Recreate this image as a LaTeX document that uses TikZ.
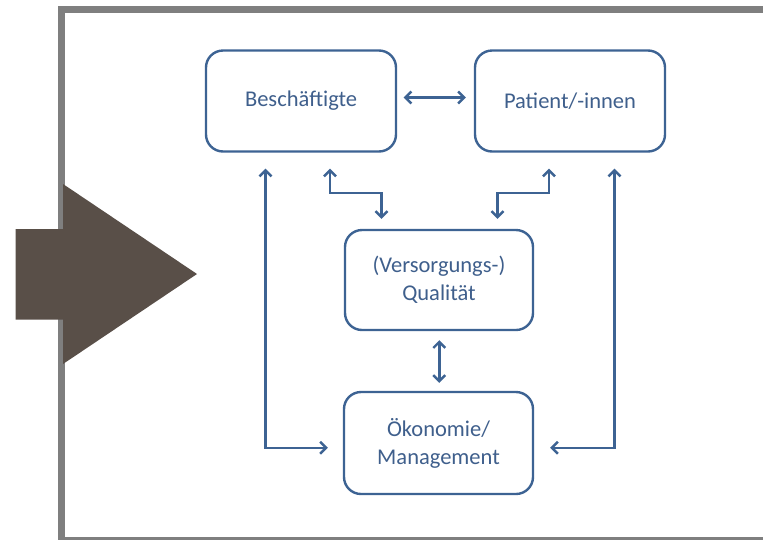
\documentclass[tikz,border=0pt]{standalone}
\usepackage{fontspec}
\setmainfont{Carlito}
\usetikzlibrary{arrows.meta,calc}
\definecolor{frameg}{HTML}{7F7F7F}
\definecolor{arrowbrown}{HTML}{594F48}
\definecolor{boxblue}{HTML}{3D6393}
\definecolor{txtblue}{HTML}{3F5F8C}
\begin{document}
\begin{tikzpicture}[x=1pt,y=-1pt,
  box/.style={draw=boxblue,line width=2.4pt,rounded corners=17pt,fill=white,
    text=txtblue,font=\fontsize{22.5}{28}\selectfont,align=center,inner sep=0pt},
  tip/.style={},
  conn/.style={draw=boxblue,line width=2.4pt,
    {Straight Barb[length=6pt,width=12pt,line width=2.4pt]}-{Straight Barb[length=6pt,width=12pt,line width=2.4pt]}},
  conn1/.style={draw=boxblue,line width=2.4pt,
    -{Straight Barb[length=6pt,width=12pt,line width=2.4pt]}}]
\useasboundingbox (0,0) rectangle (763,539);
\begin{scope}
\clip (0,0) rectangle (763,539);
\draw[frameg,line width=7pt] (61.5,9) rectangle (820,540);
\end{scope}
% big arrow
\fill[arrowbrown] (15.5,229) -- (63,229) -- (63,184) -- (197,274) -- (63,364) -- (63,319.5) -- (15.5,319.5) -- cycle;
% boxes
\node[box,minimum width=190pt,minimum height=101pt] (b) at (301,101) {Beschäftigte};
\node[box,minimum width=190pt,minimum height=101pt] (p) at (570,101) {Patient/-innen};
\node[box,minimum width=188pt,minimum height=100pt] (q) at (439,280) {(Versorgungs-)\\Qualität};
\node[box,minimum width=189pt,minimum height=102pt] (o) at (438.5,443) {Ökonomie/\\Management};
% connectors
\draw[conn] ($(b.east)+(6.5,-3.5)$) -- ($(p.west)+(-8,-3.5)$);
\draw[conn] ($(q.south)+(0.3,9)$) -- ($(o.north)+(0.8,-8)$);
\coordinate (l1) at ($(b.south)+(-35.5,16)$);
\coordinate (r1) at ($(p.south)+(44.5,16)$);
\coordinate (l0) at ($(o.west)+(-15,4.7)$);
\coordinate (r0) at ($(o.east)+(16,4.7)$);
\draw[conn] (l1) |- (l0);
\draw[conn] (r1) |- (r0);
\coordinate (l2) at ($(b.south)+(29,16)$);
\coordinate (l3) at ($(q.north)+(-57.5,-10)$);
\coordinate (r2) at ($(p.south)+(-21,16)$);
\coordinate (r3) at ($(q.north)+(58.5,-10)$);
\draw[conn] (l2) |- ($(l3)+(0,-26)$) -- (l3);
\draw[conn] (r2) |- ($(r3)+(0,-26)$) -- (r3);
\end{tikzpicture}
\end{document}
